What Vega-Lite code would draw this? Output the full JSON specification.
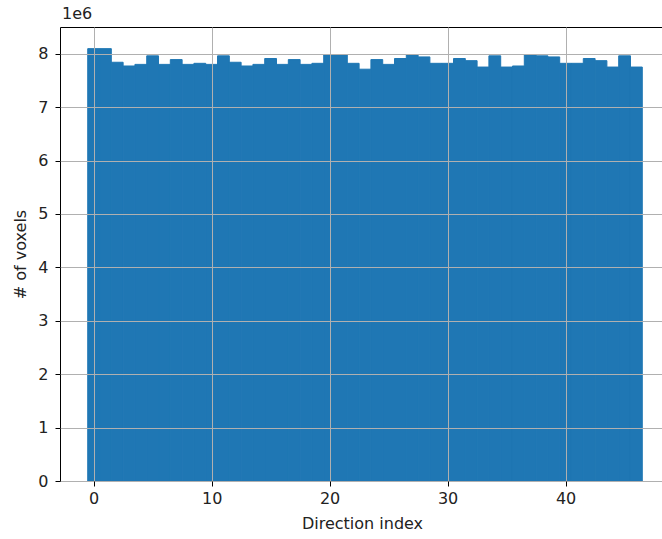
{
  "$schema": "https://vega.github.io/schema/vega-lite/v6.json",
  "width": 604,
  "height": 454,
  "autosize": {"type": "none"},
  "padding": {"left": 60, "top": 27, "right": 0, "bottom": 58},
  "background": "white",
  "config": {
    "font": "DejaVu Sans",
    "view": {"stroke": "black", "strokeWidth": 1}
  },
  "title": {"text": "1e6", "anchor": "start", "frame": "group", "fontSize": 16, "fontWeight": "normal", "color": "#222", "offset": 5, "dx": 2},
  "data": {
    "values": [
      {"bin_start": -0.5, "bin_end": 0.5, "count": 8095000},
      {"bin_start": 0.5, "bin_end": 1.5, "count": 8095000},
      {"bin_start": 1.5, "bin_end": 2.5, "count": 7840000},
      {"bin_start": 2.5, "bin_end": 3.5, "count": 7770000},
      {"bin_start": 3.5, "bin_end": 4.5, "count": 7800000},
      {"bin_start": 4.5, "bin_end": 5.5, "count": 7960000},
      {"bin_start": 5.5, "bin_end": 6.5, "count": 7800000},
      {"bin_start": 6.5, "bin_end": 7.5, "count": 7890000},
      {"bin_start": 7.5, "bin_end": 8.5, "count": 7800000},
      {"bin_start": 8.5, "bin_end": 9.5, "count": 7820000},
      {"bin_start": 9.5, "bin_end": 10.5, "count": 7800000},
      {"bin_start": 10.5, "bin_end": 11.5, "count": 7960000},
      {"bin_start": 11.5, "bin_end": 12.5, "count": 7840000},
      {"bin_start": 12.5, "bin_end": 13.5, "count": 7770000},
      {"bin_start": 13.5, "bin_end": 14.5, "count": 7800000},
      {"bin_start": 14.5, "bin_end": 15.5, "count": 7910000},
      {"bin_start": 15.5, "bin_end": 16.5, "count": 7800000},
      {"bin_start": 16.5, "bin_end": 17.5, "count": 7890000},
      {"bin_start": 17.5, "bin_end": 18.5, "count": 7800000},
      {"bin_start": 18.5, "bin_end": 19.5, "count": 7820000},
      {"bin_start": 19.5, "bin_end": 20.5, "count": 7980000},
      {"bin_start": 20.5, "bin_end": 21.5, "count": 7980000},
      {"bin_start": 21.5, "bin_end": 22.5, "count": 7820000},
      {"bin_start": 22.5, "bin_end": 23.5, "count": 7710000},
      {"bin_start": 23.5, "bin_end": 24.5, "count": 7890000},
      {"bin_start": 24.5, "bin_end": 25.5, "count": 7800000},
      {"bin_start": 25.5, "bin_end": 26.5, "count": 7910000},
      {"bin_start": 26.5, "bin_end": 27.5, "count": 7980000},
      {"bin_start": 27.5, "bin_end": 28.5, "count": 7940000},
      {"bin_start": 28.5, "bin_end": 29.5, "count": 7820000},
      {"bin_start": 29.5, "bin_end": 30.5, "count": 7820000},
      {"bin_start": 30.5, "bin_end": 31.5, "count": 7910000},
      {"bin_start": 31.5, "bin_end": 32.5, "count": 7870000},
      {"bin_start": 32.5, "bin_end": 33.5, "count": 7750000},
      {"bin_start": 33.5, "bin_end": 34.5, "count": 7960000},
      {"bin_start": 34.5, "bin_end": 35.5, "count": 7750000},
      {"bin_start": 35.5, "bin_end": 36.5, "count": 7770000},
      {"bin_start": 36.5, "bin_end": 37.5, "count": 7980000},
      {"bin_start": 37.5, "bin_end": 38.5, "count": 7960000},
      {"bin_start": 38.5, "bin_end": 39.5, "count": 7940000},
      {"bin_start": 39.5, "bin_end": 40.5, "count": 7820000},
      {"bin_start": 40.5, "bin_end": 41.5, "count": 7820000},
      {"bin_start": 41.5, "bin_end": 42.5, "count": 7910000},
      {"bin_start": 42.5, "bin_end": 43.5, "count": 7870000},
      {"bin_start": 43.5, "bin_end": 44.5, "count": 7750000},
      {"bin_start": 44.5, "bin_end": 45.5, "count": 7960000},
      {"bin_start": 45.5, "bin_end": 46.5, "count": 7750000}
    ]
  },
  "mark": {"type": "rect", "color": "#1f77b4", "stroke": "#1f77b4", "strokeWidth": 1},
  "encoding": {
    "x": {
      "field": "bin_start",
      "type": "quantitative",
      "scale": {"domain": [-2.85, 48.34], "nice": false, "zero": false},
      "axis": {
        "title": "Direction index",
        "values": [0, 10, 20, 30, 40],
        "format": "d",
        "grid": true,
        "gridColor": "#b0b0b0",
        "gridWidth": 1,
        "zindex": 1,
        "domain": false,
        "tickColor": "black",
        "tickSize": 5,
        "labelFontSize": 16,
        "labelColor": "#222",
        "labelPadding": 4,
        "titleFontSize": 16,
        "titleFontWeight": "normal",
        "titleColor": "#222",
        "titlePadding": 9
      }
    },
    "x2": {"field": "bin_end"},
    "y": {
      "field": "count",
      "type": "quantitative",
      "scale": {"domain": [0, 8500000], "nice": false},
      "axis": {
        "title": "# of voxels",
        "values": [0, 1000000, 2000000, 3000000, 4000000, 5000000, 6000000, 7000000, 8000000],
        "labelExpr": "format(datum.value / 1000000, 'd')",
        "grid": true,
        "gridColor": "#b0b0b0",
        "gridWidth": 1,
        "zindex": 1,
        "domain": false,
        "tickColor": "black",
        "tickSize": 5,
        "labelFontSize": 16,
        "labelColor": "#222",
        "labelPadding": 7,
        "titleFontSize": 16,
        "titleFontWeight": "normal",
        "titleColor": "#222",
        "titlePadding": 9
      }
    },
    "y2": {"datum": 0}
  }
}
